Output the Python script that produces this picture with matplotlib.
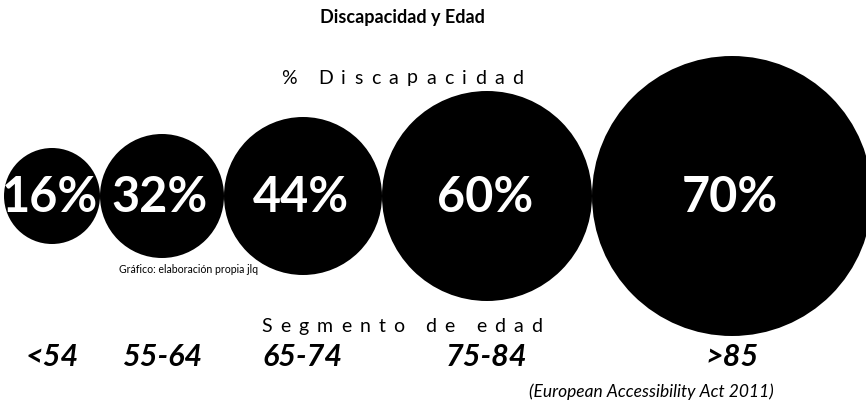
import numpy as np
import matplotlib.pyplot as plt
from matplotlib.patches import Circle

# data
age_groups = ["<54", "55-64", "65-74", "75-84", ">85"]
disability_pct = [16, 32, 44, 60, 70]

# bubble radii (px) as drawn in the infographic
radii = np.array([48, 62, 79, 105, 140])

fig = plt.figure(figsize=(8.66, 4.02), dpi=100)
ax = fig.add_axes([0, 0, 1, 1])
ax.set_xlim(0, 866)
ax.set_ylim(402, 0)
ax.set_aspect("equal")
ax.axis("off")

# tangent chain of circles
centers = 4 + radii[0] + np.concatenate([[0], np.cumsum(radii[:-1] + radii[1:])])
cy = 197
for x, r, v in zip(centers, radii, disability_pct):
    ax.add_patch(Circle((x, cy), r, color="black", lw=0))
    ax.text(x - 2, cy + 1, f"{v}%", color="white", fontsize=35, fontweight="bold",
            family="Lato", ha="center", va="center")

for x, lab in zip(centers, age_groups):
    ax.text(x, 357, lab, fontsize=22, fontweight="bold", fontstyle="italic",
            family=["Liberation Sans Narrow", "Lato"], ha="center", va="center")


def spaced(s, xc, y, track, **kw):
    renderer = fig.canvas.get_renderer()
    widths = []
    for ch in s:
        if ch == " ":
            widths.append(5)
            continue
        t = ax.text(0, 0, ch, **kw)
        widths.append(t.get_window_extent(renderer).width)
        t.remove()
    total = sum(widths) + track * (len(s) - 1)
    x = xc - total / 2
    for ch, w in zip(s, widths):
        if ch != " ":
            ax.text(x, y, ch, ha="left", va="center", **kw)
        x += w + track


spaced("% Discapacidad", 402, 78, 8.3, fontsize=14, family="Lato")
spaced("Segmento de edad", 402, 327, 8.1, fontsize=14, family="Lato")

ax.text(402, 17, "Discapacidad y Edad", fontsize=13, fontweight="bold",
        family="Lato", ha="center", va="center")
ax.text(119, 270, "Gráfico: elaboración propia jlq", fontsize=7.6,
        family="Lato", ha="left", va="center")
ax.text(651, 392, "(European Accessibility Act 2011)", fontsize=12.5,
        fontstyle="italic", family="Lato", ha="center", va="center")

fig.savefig("out.png", dpi=100)
